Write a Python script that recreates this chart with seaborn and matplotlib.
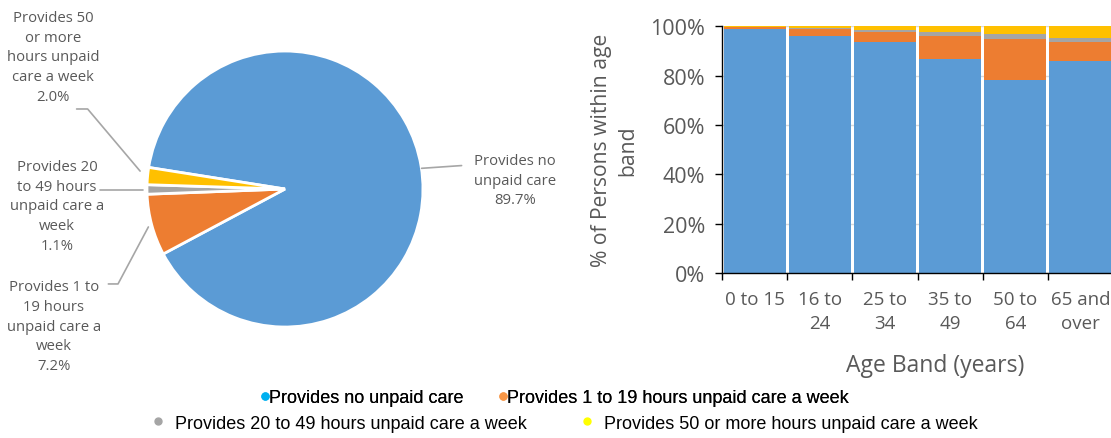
import numpy as np
import pandas as pd
import seaborn as sns
import matplotlib.pyplot as plt
from matplotlib.lines import Line2D
from matplotlib.ticker import PercentFormatter

# categories and values
care_types = ['Provides no unpaid care',
              'Provides 1 to 19 hours unpaid care a week',
              'Provides 20 to 49 hours unpaid care a week',
              'Provides 50 or more hours unpaid care a week']
pie_share = [89.7, 7.2, 1.1, 2.0]

age_bands = ['0 to 15', '16 to\n24', '25 to\n34', '35 to\n49', '50 to\n64', '65 and\nover']
no_care = [98.9, 96.1, 93.6, 86.9, 78.3, 86.0]
care_1_19 = [0.7, 2.8, 4.1, 9.2, 16.5, 7.6]
care_20_49 = [0.2, 0.4, 0.8, 1.6, 2.2, 1.5]
care_50_plus = [0.2, 0.7, 1.5, 2.3, 3.0, 4.9]

colors = ['#5B9BD5', '#ED7D31', '#A5A5A5', '#FFC000']
legend_colors = ['#00B0F0', '#F79646', '#A5A5A5', '#FFFF00']
txt = '#595959'

sns.set_style('white')
plt.rcParams['font.family'] = ['Open Sans', 'DejaVu Sans']

fig = plt.figure(figsize=(11.11, 4.39), dpi=100)

# --- pie ---
ax_pie = fig.add_axes([0.1323, 0.2528, 0.2484, 0.6287])
ax_pie.pie(pie_share, colors=colors, startangle=171, counterclock=False,
           radius=1, wedgeprops=dict(edgecolor='white', linewidth=2))
ax_pie.set_xlim(-1, 1)
ax_pie.set_ylim(-1, 1)
ax_pie.set_aspect('equal')

labels = ['Provides no\nunpaid care\n89.7%',
          'Provides 1 to\n19 hours\nunpaid care a\nweek\n7.2%',
          'Provides 20\nto 49 hours\nunpaid care a\nweek\n1.1%',
          'Provides 50\nor more\nhours unpaid\ncare a week\n2.0%']
label_xy = [(1.667, 0.065), (-1.674, -0.993), (-1.652, -0.123), (-1.681, 0.957)]
# leader lines, in units of the pie radius
leaders = [
    [(0.99, 0.15), (1.28, 0.17)],
    [(-0.99, -0.275), (-1.21, -0.688), (-1.28, -0.688)],
    [(-1.03, -0.01), (-1.34, -0.01)],
    [(-1.05, 0.13), (-1.43, 0.58), (-1.51, 0.58)],
]
for lab, (x, y), pts in zip(labels, label_xy, leaders):
    ax_pie.text(x, y, lab, ha='center', va='center', fontsize=10.7,
                color=txt, linespacing=1.42, clip_on=False)
    xs, ys = zip(*pts)
    ax_pie.add_line(Line2D(xs, ys, color='#A6A6A6', lw=1.2, clip_on=False))

# --- stacked bars ---
ax = fig.add_axes([0.6499, 0.376, 0.3519, 0.562])
stack = np.cumsum([no_care, care_1_19, care_20_49, care_50_plus], axis=0)
for i in range(3, -1, -1):
    df = pd.DataFrame({'band': age_bands, 'pct': stack[i]})
    sns.barplot(data=df, x='band', y='pct', color=colors[i], width=0.955,
                saturation=1, linewidth=0, ax=ax, zorder=2)
ax.set_xlim(-0.5, 5.5)
ax.set_ylim(0, 100)
ax.set_yticks(range(0, 101, 20))
ax.yaxis.set_major_formatter(PercentFormatter(decimals=0))
ax.grid(axis='y', color='#D9D9D9', lw=1, zorder=0)
ax.set_axisbelow(True)
ax.set_xticks(np.arange(-0.5, 6, 1), minor=True)
ax.tick_params(axis='x', which='major', length=0, labelsize=13.5,
               colors=txt, pad=12)
for t in ax.get_xticklabels():
    t.set_linespacing(1.45)
ax.tick_params(axis='x', which='minor', length=5, width=1, color='black',
               direction='out', bottom=True)
ax.tick_params(axis='y', labelsize=15.5, labelcolor=txt, length=5, width=1,
               color='black', direction='out', left=True, pad=7)
for s in ['top', 'right']:
    ax.spines[s].set_visible(False)
for s in ['left', 'bottom']:
    ax.spines[s].set_color('black')
    ax.spines[s].set_linewidth(1)
ax.set_xlabel('Age Band (years)', fontsize=16.5, color=txt, labelpad=15)
ax.xaxis.label.set_x(0.545)
ax.set_ylabel('% of Persons within age\nband', fontsize=15.2, color=txt,
              labelpad=9, linespacing=1.3)

# --- legend, two centred rows ---
handles = [Line2D([], [], marker='o', ls='', color=c, markersize=5)
           for c in legend_colors]
leg_font = {'family': ['Liberation Sans Narrow', 'Liberation Sans'], 'size': 13}
leg1 = fig.legend(handles[:2], care_types[:2], loc='center',
                  bbox_to_anchor=(0.5, 0.092), ncol=2, frameon=False,
                  prop=leg_font, handlelength=0.3, handletextpad=0.1,
                  columnspacing=2.0, labelcolor='black')
fig.add_artist(leg1)
fig.legend(handles[2:], care_types[2:], loc='center',
           bbox_to_anchor=(0.51, 0.034), ncol=2, frameon=False,
           prop=leg_font, handlelength=0.3, handletextpad=0.8,
           columnspacing=3.2, labelcolor='black')

fig.savefig('out.png', dpi=100)
